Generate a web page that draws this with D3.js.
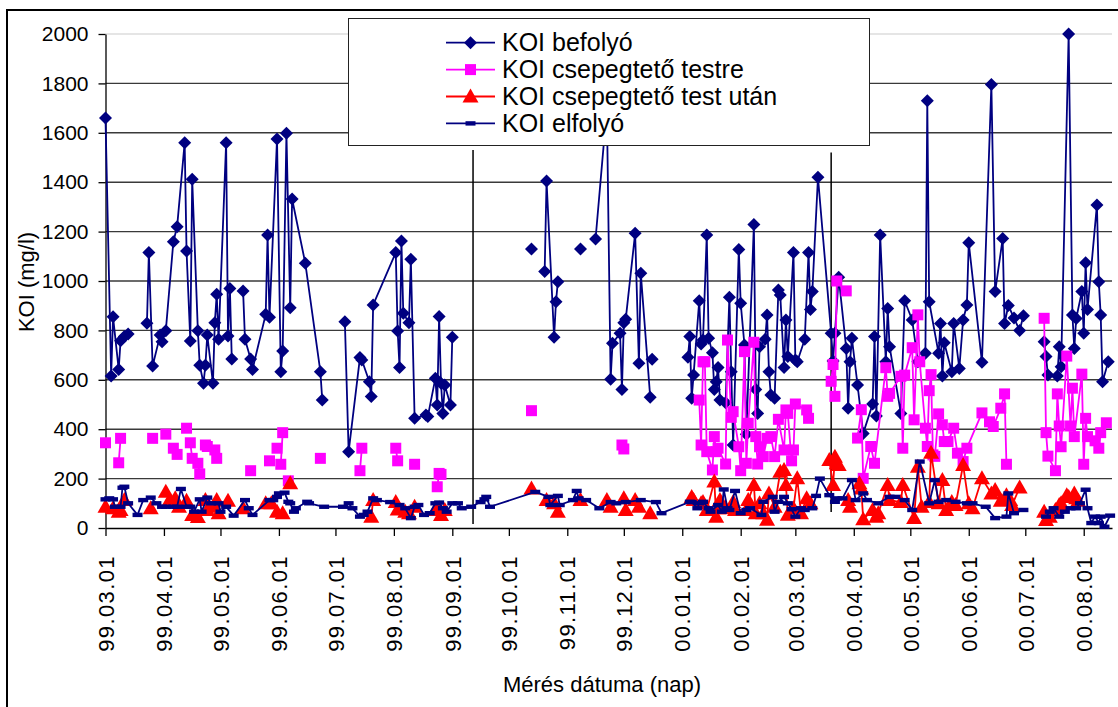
<!DOCTYPE html>
<meta charset="utf-8">

<head>
  <style>
    body {
      margin: 0;
      background: #fff;
    }

    svg {
      display: block;
      font-family: "Liberation Sans", Arial, sans-serif;
    }

    .grid line {
      stroke: #3a3a3a;
      stroke-width: 1.4;
    }

    .axis path,
    .axis line {
      fill: none;
      stroke: #000;
      stroke-width: 1.3;
    }
  </style>
</head>

<body>
  <div id="chart"></div>

  <script src="https://d3js.org/d3.v7.min.js"></script>

  <script>
    // dates are written like the axis labels: yy.mm.dd ; null = break in the line
    var seriesNames = ["KOI befolyó", "KOI csepegtető testre", "KOI csepegtető test után", "KOI elfolyó"];
    var yTicks = [0, 200, 400, 600, 800, 1000, 1200, 1400, 1600, 1800, 2000];
    var dateRange = ["99.03.01", "00.08.16"];

    var befolyo = [
      ["99.03.01", 1660], ["99.03.04", 615], ["99.03.05", 855], ["99.03.08", 642], ["99.03.09", 758], ["99.03.11", 775], ["99.03.13", 785],
      null,
      ["99.03.23", 829], ["99.03.24", 1115], ["99.03.26", 656], ["99.03.30", 781], ["99.03.31", 754], ["99.04.02", 799], ["99.04.06", 1159],
      ["99.04.08", 1220], ["99.04.12", 1560], ["99.04.13", 1121], ["99.04.15", 757], ["99.04.16", 1412], ["99.04.19", 799], ["99.04.20", 659],
      ["99.04.22", 586], ["99.04.23", 659], ["99.04.24", 781], ["99.04.27", 586], ["99.04.28", 831], ["99.04.29", 946], ["99.04.30", 764],
      ["99.05.04", 1560], ["99.05.05", 777], ["99.05.06", 970], ["99.05.07", 684],
      null,
      ["99.05.13", 960], ["99.05.14", 764], ["99.05.17", 684], ["99.05.18", 642], ["99.05.25", 865], ["99.05.26", 1186], ["99.05.27", 853],
      ["99.05.31", 1575], ["99.06.02", 633], ["99.06.03", 717], ["99.06.05", 1598], ["99.06.07", 892], ["99.06.08", 1332], ["99.06.15", 1072],
      ["99.06.23", 633], ["99.06.24", 518],
      null,
      ["99.07.06", 835], ["99.07.08", 309], ["99.07.14", 690], ["99.07.15", 680], ["99.07.19", 592], ["99.07.20", 532], ["99.07.21", 903],
      ["99.08.02", 1115], ["99.08.03", 798], ["99.08.04", 650], ["99.08.05", 1162], ["99.08.06", 869], ["99.08.09", 831], ["99.08.10", 1088],
      ["99.08.12", 444], ["99.08.18", 457], ["99.08.19", 451], ["99.08.23", 606], ["99.08.24", 498], ["99.08.25", 856], ["99.08.26", 586],
      ["99.08.27", 464], ["99.08.28", 579], ["99.08.31", 498], ["99.09.01", 772],
      null,
      ["99.10.13", 1130],
      null,
      ["99.10.20", 1038], ["99.10.21", 1405], ["99.10.25", 772], ["99.10.26", 916], ["99.10.27", 997],
      null,
      ["99.11.08", 1130],
      null,
      ["99.11.16", 1170], ["99.11.22", 1700], ["99.11.24", 602], ["99.11.25", 748], ["99.11.29", 788], ["99.11.30", 561], ["99.12.01", 831],
      ["99.12.02", 845], ["99.12.07", 1193], ["99.12.09", 667], ["99.12.10", 1031], ["99.12.15", 529],
      null,
      ["99.12.16", 683],
      null,
      ["00.01.04", 691], ["00.01.05", 775], ["00.01.06", 525], ["00.01.07", 619], ["00.01.10", 920], ["00.01.11", 745], ["00.01.12", 761],
      ["00.01.14", 1186], ["00.01.15", 768], ["00.01.17", 710], ["00.01.18", 561], ["00.01.19", 592], ["00.01.20", 650], ["00.01.21", 518],
      ["00.01.24", 507], ["00.01.26", 934], ["00.01.27", 633], ["00.01.28", 336], ["00.01.31", 1128], ["00.02.01", 910], ["00.02.03", 741],
      ["00.02.04", 380], ["00.02.08", 1229], ["00.02.09", 561], ["00.02.10", 464], ["00.02.11", 734], ["00.02.14", 764], ["00.02.15", 862],
      ["00.02.16", 633], ["00.02.17", 538], ["00.02.19", 525], ["00.02.21", 964], ["00.02.22", 943], ["00.02.24", 650], ["00.02.25", 842],
      ["00.02.26", 694], ["00.02.29", 1115], ["00.03.01", 680], ["00.03.02", 673], ["00.03.06", 764], ["00.03.08", 1115], ["00.03.09", 885],
      ["00.03.10", 957], ["00.03.13", 1420], ["00.03.20", 788], ["00.03.21", 676], ["00.03.22", 788], ["00.03.24", 1015], ["00.03.28", 727],
      ["00.03.29", 485], ["00.03.30", 673], ["00.03.31", 768], ["00.04.03", 579], ["00.04.06", 383], ["00.04.11", 502], ["00.04.12", 775],
      ["00.04.13", 453], ["00.04.15", 1186], ["00.04.18", 673], ["00.04.19", 889], ["00.04.20", 734], ["00.04.26", 464], ["00.04.28", 920],
      ["00.05.02", 842], ["00.05.05", 673], ["00.05.09", 707], ["00.05.10", 1730], ["00.05.11", 916], ["00.05.16", 707], ["00.05.17", 828],
      ["00.05.18", 615], ["00.05.19", 750], ["00.05.23", 633], ["00.05.24", 828], ["00.05.27", 646], ["00.05.29", 842], ["00.05.31", 903],
      ["00.06.01", 1155], ["00.06.08", 671], ["00.06.13", 1796], ["00.06.15", 957], ["00.06.19", 1172], ["00.06.20", 828], ["00.06.22", 901],
      ["00.06.25", 850], ["00.06.28", 800], ["00.06.30", 859],
      null,
      ["00.07.11", 754], ["00.07.12", 694], ["00.07.13", 619], ["00.07.18", 615], ["00.07.19", 734], ["00.07.20", 653], ["00.07.24", 2000],
      ["00.07.26", 862], ["00.07.27", 727], ["00.07.28", 848], ["00.07.31", 957], ["00.08.01", 788], ["00.08.02", 1074], ["00.08.03", 885],
      ["00.08.08", 1308], ["00.08.09", 997], ["00.08.10", 862], ["00.08.11", 592], ["00.08.14", 673]
    ];

    var testre = [
      ["99.03.01", 345], null, ["99.03.08", 264], ["99.03.09", 363], null, ["99.03.26", 363], null, ["99.04.02", 380], null,
      ["99.04.06", 323], null, ["99.04.08", 298], null, ["99.04.13", 404], null, ["99.04.15", 345], ["99.04.16", 282], null,
      ["99.04.19", 262], ["99.04.20", 219], null, ["99.04.23", 336], ["99.04.24", 330], null, ["99.04.28", 316], ["99.04.29", 282], null,
      ["99.05.17", 232], null, ["99.05.27", 272], null, ["99.05.31", 323], null, ["99.06.02", 258], ["99.06.03", 386], null,
      ["99.06.06", 191], null, ["99.06.23", 282], null, ["99.07.14", 232], ["99.07.15", 323], null, ["99.08.02", 323], ["99.08.03", 272], null,
      ["99.08.12", 258], null, ["99.08.24", 167], ["99.08.25", 221], ["99.08.26", 217], null, ["99.10.13", 475], null,
      ["99.11.30", 336], ["99.12.01", 320], null,
      ["00.01.10", 518], ["00.01.11", 336], ["00.01.12", 673], ["00.01.13", 673], ["00.01.14", 309], ["00.01.17", 235], ["00.01.18", 370],
      ["00.01.19", 309], ["00.01.20", 323], ["00.01.24", 259], ["00.01.25", 761], ["00.01.27", 448], ["00.01.28", 471], ["00.01.31", 329],
      ["00.02.01", 232], ["00.02.03", 714], ["00.02.04", 262], ["00.02.05", 424], ["00.02.08", 752], ["00.02.09", 370], ["00.02.10", 259],
      ["00.02.11", 329], ["00.02.13", 289], ["00.02.15", 363], ["00.02.17", 370], ["00.02.19", 289], ["00.02.21", 440], ["00.02.24", 316],
      ["00.02.25", 478], ["00.02.26", 464], ["00.02.28", 272], ["00.02.29", 316], ["00.03.01", 502], ["00.03.07", 478], ["00.03.08", 444],
      null,
      ["00.03.20", 594], ["00.03.21", 662], ["00.03.22", 533], ["00.03.23", 1000], null, ["00.03.28", 960], null,
      ["00.04.03", 364], ["00.04.05", 479], ["00.04.06", 201], ["00.04.10", 330], ["00.04.12", 262], ["00.04.18", 649], ["00.04.19", 533],
      ["00.04.20", 545], ["00.04.26", 614], ["00.04.27", 323], ["00.04.28", 619], ["00.05.02", 730], ["00.05.03", 438], ["00.05.05", 863],
      ["00.05.06", 673], ["00.05.09", 404], ["00.05.10", 330], ["00.05.11", 556], ["00.05.12", 621], ["00.05.13", 296], ["00.05.14", 290],
      ["00.05.16", 462], ["00.05.18", 418], ["00.05.19", 350], ["00.05.21", 350], ["00.05.24", 404], ["00.05.26", 303], ["00.05.29", 269],
      ["00.05.31", 323], ["00.06.08", 466], ["00.06.12", 430], ["00.06.14", 411], ["00.06.18", 485], ["00.06.20", 543], ["00.06.21", 258],
      null,
      ["00.07.11", 849], ["00.07.12", 386], ["00.07.13", 291], ["00.07.17", 232], ["00.07.18", 543], ["00.07.19", 413], ["00.07.20", 329],
      ["00.07.23", 696], ["00.07.25", 413], ["00.07.26", 566], ["00.07.27", 370], ["00.07.31", 623], ["00.08.01", 258], ["00.08.02", 444],
      ["00.08.03", 370], ["00.08.07", 353], ["00.08.09", 323], ["00.08.10", 386], ["00.08.13", 426]
    ];

    var testUtan = [
      ["99.03.01", 86], null, ["99.03.05", 80], null, ["99.03.08", 66], ["99.03.09", 73], null, ["99.03.11", 113], null, ["99.03.25", 80], null,
      ["99.04.02", 147], null, ["99.04.04", 113], null, ["99.04.07", 120], null, ["99.04.09", 86], null, ["99.04.13", 110], null,
      ["99.04.16", 53], null, ["99.04.19", 45], null, ["99.04.23", 113], ["99.04.24", 73], null, ["99.04.27", 86], null,
      ["99.04.29", 113], ["99.04.30", 60], null, ["99.05.05", 110], null, ["99.05.13", 80], null, ["99.05.25", 100], null,
      ["99.05.28", 100], null, ["99.05.31", 66], null, ["99.06.03", 60], null, ["99.06.07", 181], null,
      ["99.07.20", 46], ["99.07.21", 113], null, ["99.08.02", 105], ["99.08.03", 75], null, ["99.08.07", 66], null, ["99.08.09", 60], null,
      ["99.08.12", 86], null, ["99.08.23", 73], null, ["99.08.25", 80], ["99.08.26", 53], null, ["99.08.28", 73], null,
      ["99.10.13", 160], null, ["99.10.21", 113], null, ["99.10.25", 100], null, ["99.10.27", 66], null, ["99.11.08", 113], null,
      ["99.11.22", 113], null, ["99.11.24", 86], null, ["99.12.01", 120], ["99.12.02", 73], null, ["99.12.07", 113], null,
      ["99.12.09", 86], null, ["99.12.15", 60], null,
      ["00.01.06", 126], ["00.01.07", 113], ["00.01.11", 100], ["00.01.12", 105], ["00.01.14", 73], ["00.01.18", 188], ["00.01.19", 46],
      ["00.01.20", 80], ["00.01.21", 113], ["00.01.24", 80], ["00.01.28", 105], ["00.01.29", 73], ["00.02.04", 73], ["00.02.05", 113],
      ["00.02.08", 174], ["00.02.09", 60], ["00.02.11", 100], ["00.02.13", 60], ["00.02.15", 33], ["00.02.16", 140], ["00.02.19", 86],
      ["00.02.22", 228], ["00.02.24", 235], ["00.02.25", 174], ["00.02.26", 54], ["00.02.29", 80], ["00.03.02", 201], ["00.03.04", 60],
      ["00.03.07", 120], ["00.03.09", 100],
      null,
      ["00.03.19", 275], ["00.03.21", 174], ["00.03.22", 288], ["00.03.23", 262], ["00.03.24", 255], null, ["00.03.29", 113], ["00.03.30", 86],
      null,
      ["00.04.04", 181], ["00.04.05", 160], ["00.04.06", 35], ["00.04.11", 73], ["00.04.13", 46], ["00.04.14", 60], ["00.04.19", 174],
      ["00.04.20", 113], ["00.04.26", 105], ["00.04.27", 174], ["00.05.03", 40], ["00.05.05", 248], ["00.05.07", 86], ["00.05.11", 105],
      ["00.05.12", 305], ["00.05.16", 100], ["00.05.18", 194], ["00.05.20", 73], ["00.05.23", 105], ["00.05.25", 93], ["00.05.29", 255],
      ["00.06.01", 100], ["00.06.03", 80], ["00.06.08", 201], ["00.06.13", 140], ["00.06.15", 154], ["00.06.18", 110], ["00.06.21", 133],
      ["00.06.23", 113], ["00.06.24", 93], ["00.06.28", 164],
      null,
      ["00.07.11", 66], ["00.07.12", 32], ["00.07.14", 46], ["00.07.17", 73], ["00.07.19", 93], ["00.07.20", 100], ["00.07.23", 133],
      ["00.07.24", 126], ["00.07.27", 140], ["00.07.28", 120], ["00.07.29", 110]
    ];

    var elfolyo = [
      ["99.03.01", 116], ["99.03.03", 120], ["99.03.05", 116], ["99.03.06", 86], ["99.03.09", 86], ["99.03.10", 163], ["99.03.11", 167],
      ["99.03.13", 100], ["99.03.18", 53], ["99.03.21", 113], ["99.03.25", 123], ["99.03.28", 100], ["99.03.31", 86], ["99.04.02", 86],
      ["99.04.06", 86], ["99.04.08", 86], ["99.04.10", 158], ["99.04.13", 86], ["99.04.15", 86], ["99.04.17", 66], ["99.04.20", 116],
      ["99.04.21", 66], ["99.04.24", 123], ["99.04.26", 100], ["99.04.30", 100], ["99.05.01", 66], ["99.05.04", 86], ["99.05.08", 50],
      ["99.05.14", 113], ["99.05.16", 80], ["99.05.18", 53], ["99.05.27", 113], ["99.05.29", 113], ["99.05.31", 126], ["99.06.01", 140],
      ["99.06.04", 143], ["99.06.06", 106], ["99.06.07", 100], ["99.06.09", 66], ["99.06.10", 80], ["99.06.16", 106], ["99.06.17", 100],
      ["99.06.25", 86], ["99.07.05", 86], ["99.07.08", 100], ["99.07.10", 80], ["99.07.14", 46], ["99.07.16", 53], ["99.07.18", 66],
      ["99.07.21", 120], ["99.07.23", 113], ["99.07.30", 105], ["99.08.04", 93], ["99.08.07", 80], ["99.08.10", 40], ["99.08.12", 86],
      ["99.08.14", 93], ["99.08.17", 53], ["99.08.20", 60], ["99.08.23", 100], ["99.08.25", 103], ["99.08.27", 80], ["99.08.29", 66],
      ["99.09.01", 100], ["99.09.04", 100], ["99.09.06", 80], ["99.09.11", 86], ["99.09.16", 105], ["99.09.18", 116], ["99.09.19", 126],
      ["99.09.21", 86], ["99.10.15", 146], ["99.10.22", 126], ["99.10.23", 93], ["99.10.27", 130], ["99.10.28", 93], ["99.11.04", 113],
      ["99.11.06", 150], ["99.11.07", 120], ["99.11.11", 113], ["99.11.18", 80], ["99.11.24", 105], ["99.11.27", 100], ["99.12.02", 105],
      ["99.12.10", 113], ["99.12.18", 105], ["99.12.21", 60],
      ["00.01.05", 106], ["00.01.06", 105], ["00.01.09", 80], ["00.01.10", 100], ["00.01.12", 106], ["00.01.15", 80], ["00.01.16", 66],
      ["00.01.20", 93], ["00.01.22", 66], ["00.01.23", 156], ["00.01.25", 80], ["00.01.26", 73], ["00.01.29", 150], ["00.02.01", 60],
      ["00.02.04", 73], ["00.02.06", 80], ["00.02.12", 53], ["00.02.13", 106], ["00.02.18", 126], ["00.02.19", 66], ["00.02.21", 106],
      ["00.02.24", 126], ["00.02.26", 100], ["00.02.28", 76], ["00.03.01", 46], ["00.03.04", 80], ["00.03.06", 73], ["00.03.10", 80],
      ["00.03.12", 130], ["00.03.14", 200], ["00.03.19", 133], ["00.03.22", 106], ["00.03.23", 120], ["00.03.26", 120], ["00.03.31", 194],
      ["00.04.02", 113], ["00.04.06", 140], ["00.04.08", 113], ["00.04.14", 100], ["00.04.20", 126], ["00.04.23", 126], ["00.04.28", 113],
      ["00.05.02", 73], ["00.05.06", 269], ["00.05.11", 100], ["00.05.14", 194], ["00.05.16", 106], ["00.05.20", 113], ["00.05.25", 106],
      ["00.05.31", 100], ["00.06.03", 100], ["00.06.10", 86], ["00.06.15", 40], ["00.06.21", 46], ["00.06.22", 140], ["00.06.25", 60],
      ["00.06.30", 73],
      null,
      ["00.07.12", 46], ["00.07.14", 66], ["00.07.16", 80], ["00.07.19", 46], ["00.07.22", 66], ["00.07.25", 80], ["00.07.28", 80],
      ["00.07.30", 100], ["00.08.02", 155], ["00.08.03", 80], ["00.08.05", 20], ["00.08.07", 46], ["00.08.09", 20], ["00.08.10", 46],
      ["00.08.12", 5], ["00.08.15", 50]
    ];

    // the two vertical phase marks drawn on the chart
    var phaseDates = ["99.09.12", "00.03.20"];
    var phaseTop = [1530, 1520];
    var phaseBottom = [16, 65];

    var width = 1118, height = 707;
    var parseDay = d3.timeParse("%y.%m.%d");

    var svg = d3.select("#chart").append("svg")
      .attr("width", width)
      .attr("height", height);

    // outer chart border (right and bottom edges are outside the picture)
    svg.append("rect")
      .attr("x", 7).attr("y", 10)
      .attr("width", 1300).attr("height", 900)
      .attr("fill", "none")
      .attr("stroke", "#000")
      .attr("stroke-width", 2);

    var x = d3.scaleTime()
      .domain(dateRange.map(parseDay))
      .range([105.5, 1112]);

    var y = d3.scaleLinear()
      .domain([0, 2000])
      .range([528, 34]);

    // gridlines
    svg.append("g")
      .attr("class", "grid")
      .selectAll("line")
      .data(yTicks.filter(function (d) { return d > 0; }))
      .enter().append("line")
      .attr("x1", 105.5)
      .attr("x2", 1112)
      .attr("y1", function (d) { return y(d); })
      .attr("y2", function (d) { return y(d); })
      .style("stroke", function (d) { return d == 2000 ? "#ddd" : null; });

    var yAxis = svg.append("g")
      .attr("class", "y axis")
      .attr("transform", "translate(105.5,0)")
      .call(d3.axisLeft(y)
        .tickValues(yTicks)
        .tickFormat(d3.format("d"))
        .tickSize(7)
        .tickSizeOuter(0)
        .tickPadding(10));

    yAxis.selectAll("text")
      .style("font-size", "21px")
      .attr("fill", "#000");

    var xAxis = svg.append("g")
      .attr("class", "x axis")
      .attr("transform", "translate(0,528)")
      .call(d3.axisBottom(x)
        .ticks(d3.timeMonth.every(1))
        .tickFormat(d3.timeFormat("%y.%m.%d"))
        .tickSize(8)
        .tickSizeOuter(0));

    xAxis.selectAll("text")
      .attr("y", 0)
      .attr("x", -27)
      .attr("dy", "0.35em")
      .attr("transform", "rotate(-90)")
      .style("text-anchor", "end")
      .style("font-size", "22px")
      .style("letter-spacing", "1.4px")
      .attr("fill", "#000");

    // axis titles
    svg.append("text")
      .attr("transform", "rotate(-90)")
      .attr("x", -282)
      .attr("y", 34)
      .style("text-anchor", "middle")
      .style("font-size", "22px")
      .text("KOI (mg/l)");

    svg.append("text")
      .attr("x", 602)
      .attr("y", 692)
      .style("text-anchor", "middle")
      .style("font-size", "22px")
      .text("Mérés dátuma (nap)");

    // phase marks
    svg.append("g")
      .selectAll("line")
      .data(phaseDates)
      .enter().append("line")
      .attr("x1", function (d) { return x(parseDay(d)); })
      .attr("x2", function (d) { return x(parseDay(d)); })
      .attr("y1", function (d, i) { return y(phaseTop[i]); })
      .attr("y2", function (d, i) { return y(phaseBottom[i]); })
      .attr("stroke", "#000")
      .attr("stroke-width", 1.5);

    var shapes = {
      diamond: "M0,-6.5L6.5,0L0,6.5L-6.5,0Z",
      square: "M-5.5,-5.5H5.5V5.5H-5.5Z",
      triangle: "M0,-8L8,6L-8,6Z",
      dash: "M-5,-2.2H5V2.2H-5Z"
    };

    var series = [
      { name: seriesNames[0], data: befolyo, color: "#000080", shape: shapes.diamond },
      { name: seriesNames[1], data: testre, color: "#FF00FF", shape: shapes.square },
      { name: seriesNames[2], data: testUtan, color: "#FF0000", shape: shapes.triangle },
      { name: seriesNames[3], data: elfolyo, color: "#000080", shape: shapes.dash }
    ];

    var line = d3.line()
      .defined(function (d) { return d !== null; })
      .x(function (d) { return x(parseDay(d[0])); })
      .y(function (d) { return y(d[1]); });

    series.forEach(function (s) {
      var g = svg.append("g");

      g.append("path")
        .datum(s.data)
        .attr("d", line)
        .attr("fill", "none")
        .attr("stroke", s.color)
        .attr("stroke-width", 1.8)
        .attr("stroke-linejoin", "round");

      g.selectAll(".mark")
        .data(s.data.filter(function (d) { return d !== null; }))
        .enter().append("path")
        .attr("class", "mark")
        .attr("d", s.shape)
        .attr("transform", function (d) { return "translate(" + x(parseDay(d[0])) + "," + y(d[1]) + ")"; })
        .attr("fill", s.color);
    });

    // legend
    var legendBox = svg.append("g");

    legendBox.append("rect")
      .attr("x", 348.5).attr("y", 18.5)
      .attr("width", 521).attr("height", 127)
      .attr("fill", "#fff")
      .attr("stroke", "#222")
      .attr("stroke-width", 1);

    var legend = legendBox.selectAll(".item")
      .data(series)
      .enter().append("g")
      .attr("class", "item")
      .attr("transform", function (d, i) { return "translate(0," + (42.7 + i * 26.9) + ")"; });

    legend.append("line")
      .attr("x1", 446).attr("x2", 495)
      .attr("stroke", function (d) { return d.color; })
      .attr("stroke-width", 1.8);

    legend.append("path")
      .attr("d", function (d) { return d.shape; })
      .attr("transform", "translate(470.5,0)")
      .attr("fill", function (d) { return d.color; });

    legend.append("text")
      .attr("x", 502)
      .attr("dy", "0.35em")
      .style("font-size", "25px")
      .text(function (d) { return d.name; });
  </script>
</body>
